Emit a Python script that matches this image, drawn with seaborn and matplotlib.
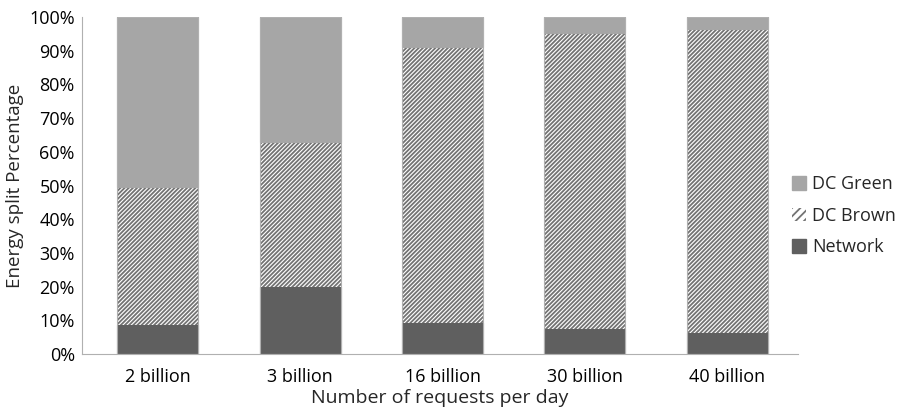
import matplotlib
matplotlib.use("Agg")
import matplotlib.pyplot as plt
import seaborn as sns
import pandas as pd
import numpy as np
from matplotlib.patches import Patch

categories = ["2 billion", "3 billion", "16 billion", "30 billion", "40 billion"]
network = [8.7, 19.8, 9.3, 7.5, 6.3]
dc_brown = [40.9, 43.1, 81.8, 87.7, 90.1]
dc_green = [100 - n - b for n, b in zip(network, dc_brown)]

sns.set_theme(style="white")
plt.rcParams["font.family"] = ["Open Sans", "DejaVu Sans"]
plt.rcParams["hatch.linewidth"] = 1.3

df = pd.DataFrame({"cat": categories, "network": network, "brown": dc_brown, "green": dc_green})
bottom_brown = df["network"].values
bottom_green = (df["network"] + df["brown"]).values

fig = plt.figure(figsize=(8.98, 4.15), dpi=100)
ax = fig.add_axes([0.091, 0.147, 0.798, 0.812])

c_net = "#5f5f5f"
c_green = "#a6a6a6"
hatch_c = "#737373"
HATCH = "////////"

sns.barplot(data=df, x="cat", y="network", color=c_net, saturation=1, width=0.57,
            edgecolor=c_net, linewidth=0.8, ax=ax)
sns.barplot(data=df, x="cat", y="brown", bottom=bottom_brown, color="white", saturation=1,
            width=0.57, edgecolor=hatch_c, hatch=HATCH, linewidth=0, ax=ax)
sns.barplot(data=df, x="cat", y="green", bottom=bottom_green, color=c_green, saturation=1,
            width=0.57, edgecolor=c_green, linewidth=0.8, ax=ax)
sns.barplot(data=df, x="cat", y=[100] * 5, fill=False, width=0.57, edgecolor="#b0b0b0",
            linewidth=0.8, ax=ax)

ax.set_ylim(0, 100)
ax.set_xlim(-0.535, 4.5)
ax.set_yticks(np.arange(0, 101, 10))
ax.set_yticklabels([f"{v}%" for v in range(0, 101, 10)])
ax.tick_params(axis="x", labelsize=13, colors="black", length=0, pad=10)
ax.tick_params(axis="y", labelsize=13, labelcolor="black", length=3, color="#b0b0b0",
               direction="out", pad=2)
ax.set_xlabel("Number of requests per day", fontsize=14, labelpad=2)
ax.set_ylabel("Energy split Percentage", fontsize=13.5, labelpad=4)

for s in ["top", "right"]:
    ax.spines[s].set_visible(False)
for s in ["left", "bottom"]:
    ax.spines[s].set_color("#b0b0b0")
    ax.spines[s].set_linewidth(0.8)

handles = [Patch(facecolor=c_green, edgecolor=c_green, label="DC Green"),
           Patch(facecolor="white", edgecolor=hatch_c, hatch="////", linewidth=0, label="DC Brown"),
           Patch(facecolor=c_net, edgecolor=c_net, label="Network")]
fig.legend(handles=handles, loc="center left", bbox_to_anchor=(0.882, 0.48), frameon=False,
           fontsize=13, handlelength=0.75, handleheight=0.75, handletextpad=0.35,
           labelspacing=0.75, borderpad=0, borderaxespad=0)

fig.savefig("out.png", dpi=100)
